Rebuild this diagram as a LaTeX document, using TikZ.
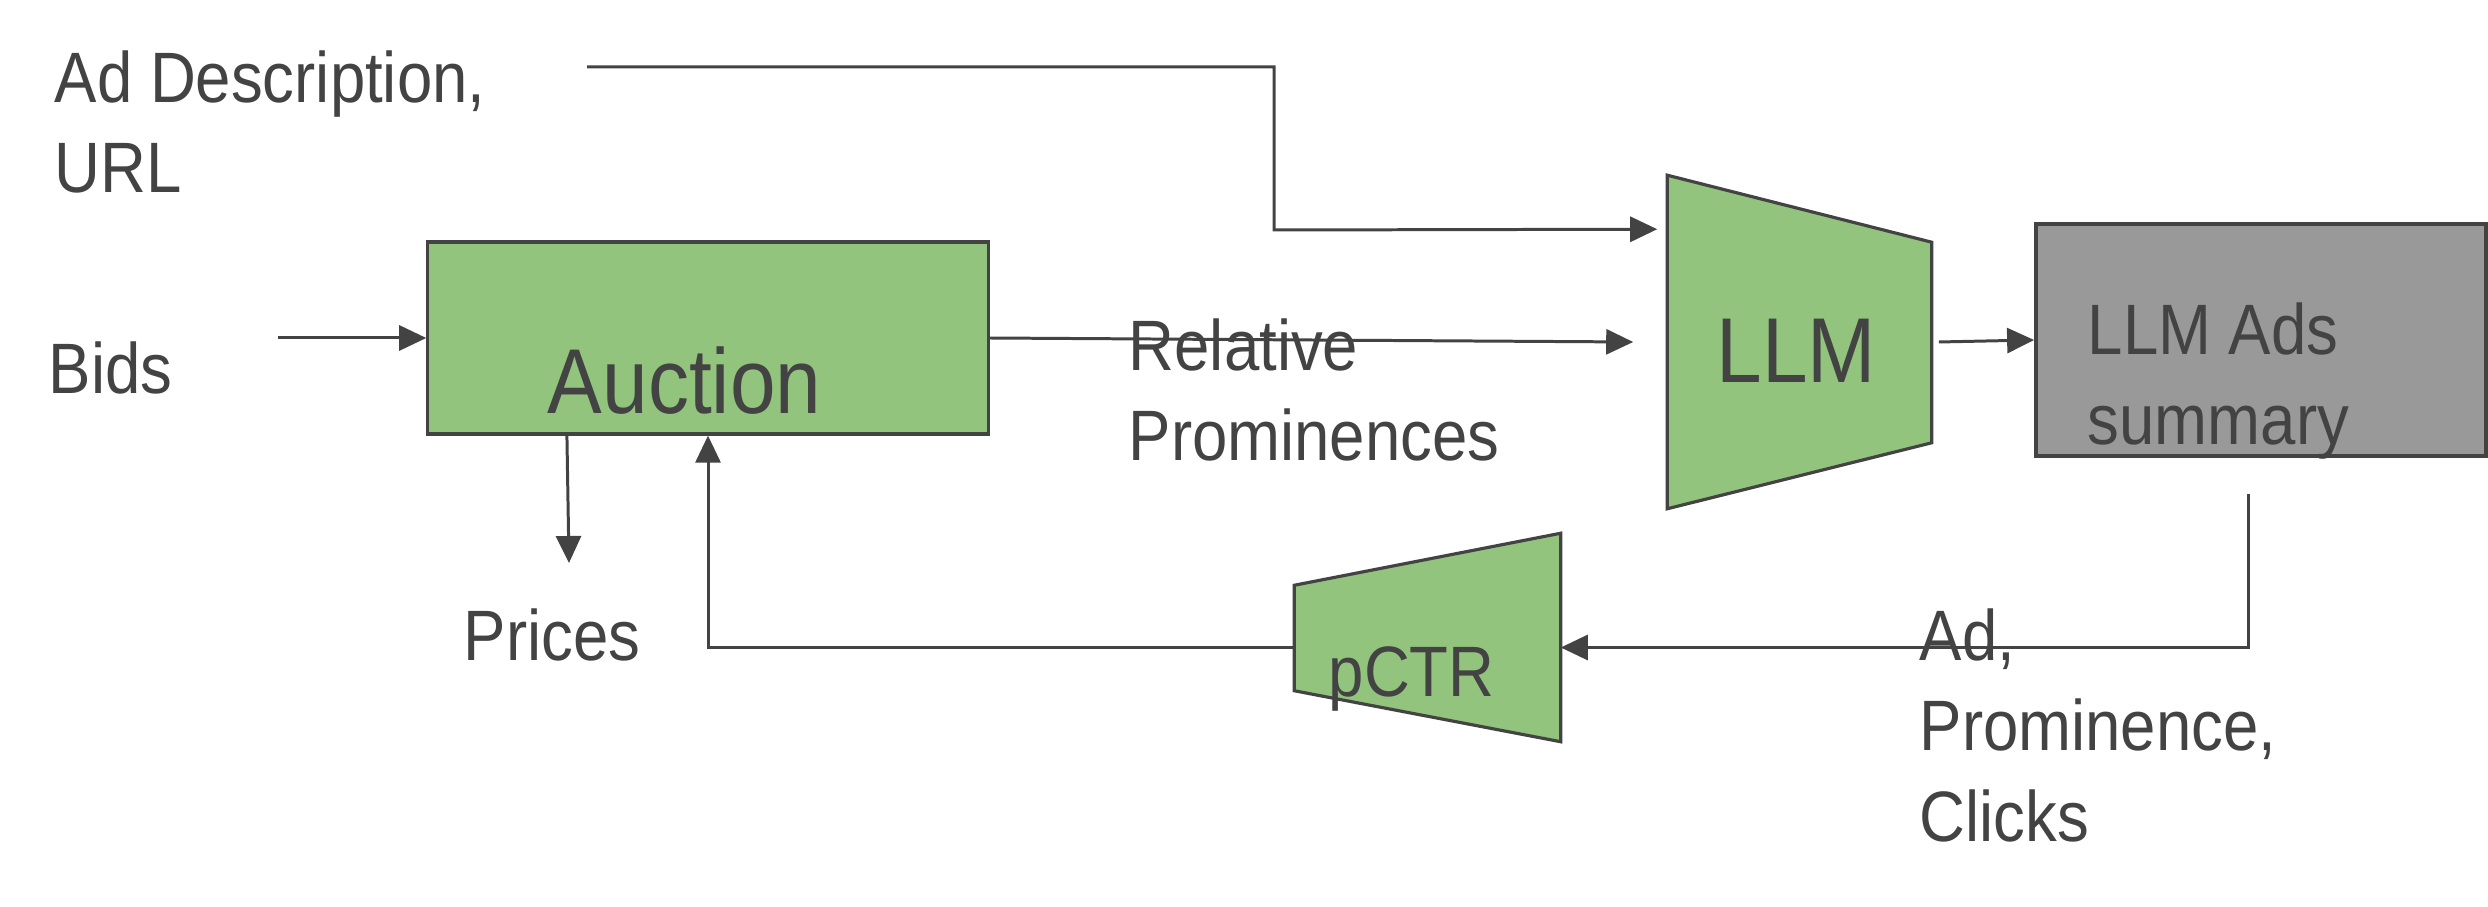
\documentclass[tikz,border=0pt]{standalone}
\usepackage{fontspec}
\setmainfont{Liberation Sans}[FakeStretch=0.89]
\usetikzlibrary{arrows.meta, calc}
\definecolor{ink}{HTML}{434343}
\definecolor{boxgreen}{HTML}{93C47D}
\definecolor{boxgray}{HTML}{999999}
\tikzset{
    txt/.style={anchor=base west, inner sep=0pt, text=ink, align=left, font=\fontsize{20.3}{25.6}\selectfont},
    bigtxt/.style={txt, font=\fontsize{26.2}{32}\selectfont},
    greenbox/.style={draw=ink, fill=boxgreen, line width=0.9pt, inner sep=0pt},
    graybox/.style={draw=ink, fill=boxgray, line width=1pt, inner sep=0pt},
    trapbox/.style={inner sep=0pt},
    trap/.style={draw=ink, fill=boxgreen, line width=0.9pt},
    arr/.style={draw=ink, line width=0.85pt, -{Triangle[length=0.27cm, width=0.25cm]}}
}

\begin{document}
\begin{tikzpicture}[x=0.01cm, y=-0.01cm]
                \useasboundingbox (0,0) rectangle (2488,907);
                \node[greenbox, minimum width=5.60cm, minimum height=1.92cm] (auction) at (708,338) {};
                \node[trapbox, minimum width=2.63cm, minimum height=3.32cm] (llm) at (1799.5,342) {};
                \node[graybox, minimum width=4.50cm, minimum height=2.32cm] (summary) at (2261,340) {};
                \node[trapbox, minimum width=2.65cm, minimum height=2.07cm] (pctr) at (1427.5,637.5) {};
                \filldraw[trap] (llm.north west) -- ([yshift=-0.67cm]llm.north east) -- ([yshift=0.66cm]llm.south east) -- (llm.south west) -- cycle;
                \filldraw[trap] ([yshift=-0.52cm]pctr.north west) -- (pctr.north east) -- (pctr.south east) -- ([yshift=0.51cm]pctr.south west) -- cycle;
                \coordinate (adout) at (587,67);
                \coordinate (bidsout) at (278,338);
                \coordinate (pricesin) at (569,563);
                \coordinate (fbout) at ([xshift=-0.13cm, yshift=-0.36cm]summary.south);
                % connectors
                \draw[arr] (adout) -| (1274,230) -- ([xshift=-0.1cm, yshift=-0.54cm]llm.north west);
                \draw[arr] (bidsout) -- (auction.west);
                \draw[arr] (auction.east) -- ([xshift=-0.34cm]llm.west);
                \draw[arr] ([xshift=0.07cm]llm.east) -- (summary.west);
                \draw[arr] ([xshift=-1.41cm]auction.south) -- (pricesin);
                \draw[arr] (fbout) |- ([yshift=-0.1cm]pctr.east);
                \draw[arr] ([yshift=-0.1cm]pctr.west) -| (auction.south);
                % texts (multi-line ones sit on their last line)
                \node[bigtxt] (auctiontext) at (547,414) {Auction};
                \node[bigtxt] (llmtext) at (1716,383) {LLM};
                \node[txt] (summarytext) at (2087,445) {LLM Ads\\summary};
                \node[txt] (pctrtext) at (1328,696) {pCTR};
                \node[txt] (adtext) at (54,193) {Ad Description,\\URL};
                \node[txt] (bids) at (48,394) {Bids};
                \node[txt] (relprom) at (1128,461) {Relative\\Prominences};
                \node[txt] (prices) at (463,661) {Prices};
                \node[txt] (feedback) at (1919,841) {Ad,\\Prominence,\\Clicks};
            \end{tikzpicture}
\end{document}
